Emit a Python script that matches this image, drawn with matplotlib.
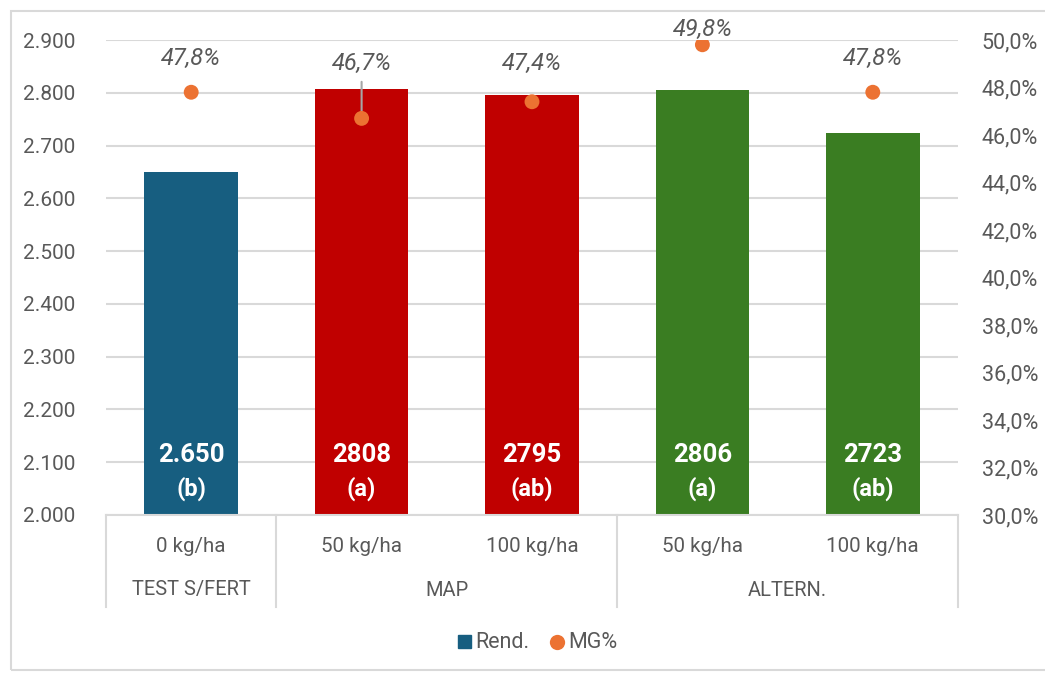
import matplotlib
matplotlib.use("Agg")
import matplotlib.pyplot as plt
from matplotlib.patches import Rectangle
from matplotlib.lines import Line2D
from matplotlib.ticker import FuncFormatter

plt.rcParams['font.family'] = ['Roboto', 'DejaVu Sans']

# Data
doses = ["0 kg/ha", "50 kg/ha", "100 kg/ha", "50 kg/ha", "100 kg/ha"]
groups = ["TEST S/FERT", "MAP", "ALTERN."]
group_sizes = [1, 2, 2]
rend = [2650, 2808, 2795, 2806, 2723]
rend_labels = ["2.650", "2808", "2795", "2806", "2723"]
letters = ["(b)", "(a)", "(ab)", "(a)", "(ab)"]
mg = [47.8, 46.7, 47.4, 49.8, 47.8]
mg_labels = ["47,8%", "46,7%", "47,4%", "49,8%", "47,8%"]

bar_colors = ["#175e80", "#c00000", "#c00000", "#3a7d22", "#3a7d22"]
orange = "#ec7232"
grid_c = "#d9d9d9"
text_c = "#595959"

W, H = 1045, 675
fig = plt.figure(figsize=(W / 100, H / 100), dpi=100)

def fx(px):
    return px / W

def fy(py):
    return 1 - py / H

# outer chart border
fig.patches.append(Rectangle((fx(11), fy(670)), fx(1080) - fx(11), fy(11) - fy(670),
                             transform=fig.transFigure, fill=False,
                             edgecolor="#d9d9d9", linewidth=1.5))

left, right, top, bottom = 106, 958, 40, 515
ax = fig.add_axes([fx(left), fy(bottom), fx(right) - fx(left), fy(top) - fy(bottom)])
ax2 = ax.twinx()

x = list(range(len(rend)))
ax.bar(x, [r - 2000 for r in rend], bottom=2000, width=0.55, color=bar_colors, zorder=2)
ax.set_xlim(-0.5, len(rend) - 0.5)
ax.set_ylim(2000, 2900)
ax.set_yticks(range(2000, 2901, 100))
ax.yaxis.set_major_formatter(FuncFormatter(lambda v, p: f"{int(v):,}".replace(",", ".")))
ax.grid(axis="y", color=grid_c, linewidth=1.5, zorder=0)
ax.set_axisbelow(True)
ax.set_xticks([])
for s in ["top", "left", "right"]:
    ax.spines[s].set_visible(False)
ax.spines["bottom"].set_color(grid_c)
ax.spines["bottom"].set_linewidth(1.5)
ax.tick_params(axis="y", length=0, pad=22, labelsize=15, labelcolor=text_c)

# value labels inside bars
for xi, lab, let in zip(x, rend_labels, letters):
    ax.text(xi, 2113, lab, ha="center", va="center", color="white",
            fontsize=18.5, fontweight="bold", zorder=3)
    ax.text(xi, 2050, let, ha="center", va="center", color="white",
            fontsize=17, fontweight="bold", zorder=3)

# MG% points on secondary axis
ax2.set_ylim(30, 50)
ax2.set_yticks(range(30, 51, 2))
ax2.yaxis.set_major_formatter(FuncFormatter(lambda v, p: f"{v:.1f}%".replace(".", ",")))
ax2.tick_params(axis="y", length=0, pad=17, labelsize=15.5, labelcolor=text_c)
for s in ax2.spines.values():
    s.set_visible(False)
ax2.scatter(x, mg, s=115, color=orange, zorder=4, edgecolors="none")

offsets_px = [34, 55, 38, 15, 34]
for xi, v, lab, off in zip(x, mg, mg_labels, offsets_px):
    if off > 45:
        ax2.annotate(lab, (xi, v), xytext=(0, off * 0.72), textcoords="offset points",
                     ha="center", va="center", fontsize=17, style="italic", color=text_c,
                     arrowprops=dict(arrowstyle="-", color="#a6a6a6", lw=1.5,
                                     shrinkA=3, shrinkB=0))
    else:
        ax2.annotate(lab, (xi, v), xytext=(0, off * 0.72), textcoords="offset points",
                     ha="center", va="center", fontsize=17, style="italic", color=text_c)

# two-level category axis
cat_w = (right - left) / len(rend)
line_bottom = 607
bounds = [0]
for g in group_sizes:
    bounds.append(bounds[-1] + g)
for b in bounds:
    xp = left + b * cat_w
    fig.add_artist(Line2D([fx(xp), fx(xp)], [fy(bottom), fy(line_bottom)],
                          transform=fig.transFigure, color=grid_c, linewidth=1.5))
for i, d in enumerate(doses):
    fig.text(fx(left + (i + 0.5) * cat_w), fy(546), d, ha="center", va="center",
             fontsize=14.8, color=text_c)
for g, a, b in zip(groups, bounds[:-1], bounds[1:]):
    fig.text(fx(left + (a + b) / 2 * cat_w), fy(590), g, ha="center", va="center",
             fontsize=14.5, color=text_c)

# legend
fig.patches.append(Rectangle((fx(458), fy(648)), fx(13), 13 / H,
                             transform=fig.transFigure, color="#175e80"))
fig.text(fx(475), fy(642), "Rend.", ha="left", va="center", fontsize=15.5, color=text_c)
fig.add_artist(Line2D([fx(557)], [fy(642)], marker="o", markersize=11,
                      color=orange, markeredgewidth=0, transform=fig.transFigure))
fig.text(fx(568), fy(642), "MG%", ha="left", va="center", fontsize=15.5, color=text_c)

fig.savefig("out.png", dpi=100)
